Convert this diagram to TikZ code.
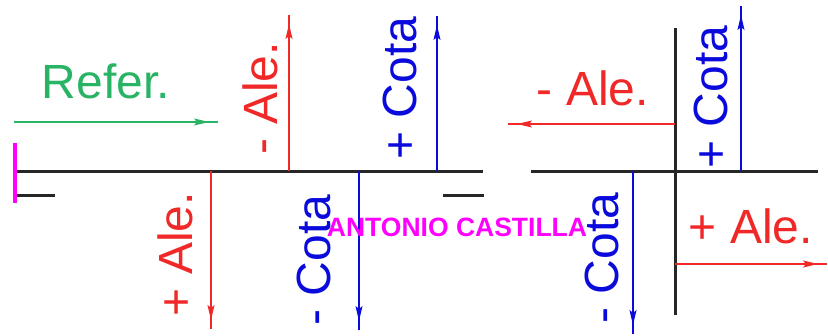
\documentclass[tikz,border=0pt]{standalone}
\usepackage{fontspec}
\setmainfont{Liberation Sans}
\usetikzlibrary{arrows.meta,decorations.markings}
\definecolor{cred}{RGB}{240,40,40}
\definecolor{cblue}{RGB}{10,10,220}
\definecolor{cgreen}{RGB}{40,180,100}
\definecolor{cmag}{RGB}{255,0,255}
\tikzset{
  axisline/.style={line width=3pt, draw=black!85},
  dimarrow/.style={line width=1.3pt, postaction={decorate},
    decoration={markings, mark=at position -9pt with {\arrow{Stealth[length=15pt,width=7pt,inset=3pt]}}}},
  lbl/.style={font=\fontsize{48}{48}\selectfont, inner sep=0pt, anchor=base},
  lblup/.style={lbl, rotate=90},
  sign/.style={font=\bfseries\fontsize{26.5}{26.5}\selectfont, inner sep=0pt, anchor=base, text=cmag},
}
\begin{document}
\begin{tikzpicture}[x=1pt,y=-1pt]
\useasboundingbox (0,0) rectangle (828,335);
% ---------- left diagram ----------
\coordinate (La) at (15,171);
\coordinate (Lb) at (483,171);
\draw[axisline] (La) -- (Lb);
\coordinate (Sa) at (15,195);
\coordinate (Sb) at (55,195);
\draw[axisline] (Sa) -- (Sb);
\coordinate (Ta) at (443,195);
\coordinate (Tb) at (484,195);
\draw[axisline] (Ta) -- (Tb);
\coordinate (Ma) at (15,143);
\coordinate (Mb) at (15,203);
\draw[line width=4pt, cmag] (Ma) -- (Mb);
% reference arrow
\coordinate (Ga) at (14,122);
\coordinate (Gb) at (218,122);
\draw[dimarrow, cgreen] (Ga) -- (Gb);
\node[lbl, text=cgreen] (refer) at (106,98) {Refer.};
% -Ale (up)
\coordinate (A1a) at (289,171);
\coordinate (A1b) at (289,15);
\draw[dimarrow, cred] (A1a) -- (A1b);
\node[lblup, text=cred] (mAle) at (277,98) {- Ale.};
% +Ale (down)
\coordinate (A2a) at (211,171);
\coordinate (A2b) at (211,329);
\draw[dimarrow, cred] (A2a) -- (A2b);
\node[lblup, text=cred] (pAle) at (192,254) {+ Ale.};
% +Cota (up)
\coordinate (C1a) at (437,171);
\coordinate (C1b) at (437,16);
\draw[dimarrow, cblue] (C1a) -- (C1b);
\node[lblup, text=cblue] (pCota) at (416,88) {+ Cota};
% -Cota (down)
\coordinate (C2a) at (359,171);
\coordinate (C2b) at (359,330);
\draw[dimarrow, cblue] (C2a) -- (C2b);
\node[lblup, text=cblue] (mCota) at (330,260) {- Cota};
% ---------- right diagram ----------
\coordinate (Ha) at (531,171);
\coordinate (Hb) at (818,171);
\draw[axisline] (Ha) -- (Hb);
\coordinate (Va) at (675,28);
\coordinate (Vb) at (675,315);
\draw[axisline] (Va) -- (Vb);
% -Ale (left)
\coordinate (R1a) at (675,124);
\coordinate (R1b) at (508,124);
\draw[dimarrow, cred] (R1a) -- (R1b);
\node[lbl, text=cred] (rmAle) at (593,105) {- Ale.};
% +Ale (right)
\coordinate (R2a) at (675,264);
\coordinate (R2b) at (827,264);
\draw[dimarrow, cred] (R2a) -- (R2b);
\node[lbl, text=cred] (rpAle) at (751,243) {+ Ale.};
% +Cota (up)
\coordinate (R3a) at (741,171);
\coordinate (R3b) at (741,6);
\draw[dimarrow, cblue] (R3a) -- (R3b);
\node[lblup, text=cblue] (rpCota) at (727,97) {+ Cota};
% -Cota (down)
\coordinate (R4a) at (633,171);
\coordinate (R4b) at (633,334);
\draw[dimarrow, cblue] (R4a) -- (R4b);
\node[lblup, text=cblue] (rmCota) at (618,258) {- Cota};
% signature
\node[sign] (author) at (457,236) {ANTONIO CASTILLA};
\end{tikzpicture}
\end{document}
